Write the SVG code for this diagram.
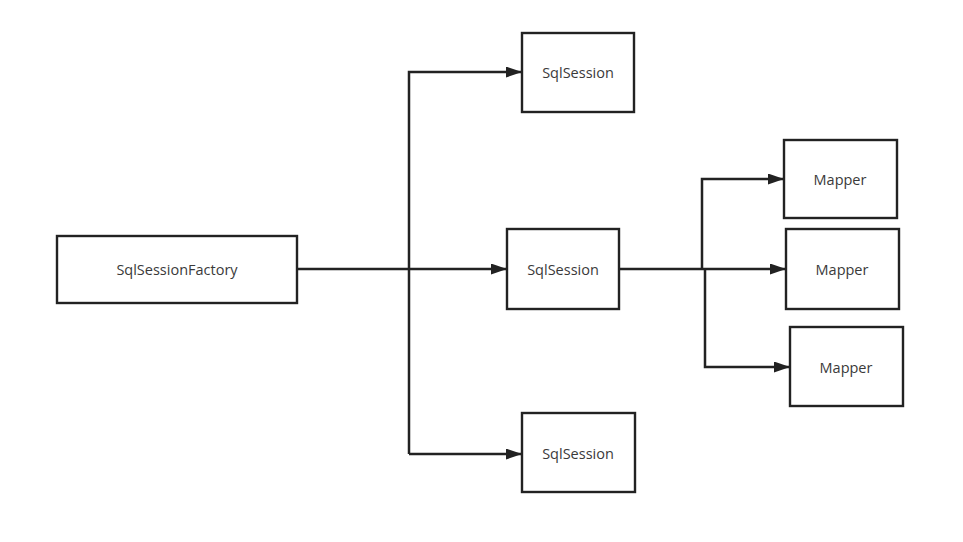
<svg xmlns="http://www.w3.org/2000/svg" width="963" height="542" viewBox="0 0 963 542">
<style>
.box{fill:#fff;stroke:#222;stroke-width:2.4}
.lbl{font-family:"Open Sans","Noto Sans","Liberation Sans",sans-serif;font-size:14.5px;fill:#3a3a3a;text-anchor:middle;dominant-baseline:central}
.ln{fill:none;stroke:#222;stroke-width:2.5}
</style>
<defs>
<marker id="ah" viewBox="0 0 16 11" refX="16" refY="5.5" markerWidth="16" markerHeight="11" markerUnits="userSpaceOnUse" orient="auto">
<path d="M0,0 L16,5.5 L0,11 Z" fill="#222"/>
</marker>
</defs>
<rect width="963" height="542" fill="#fff"/>
<g id="connectors">
<path class="ln" d="M297,269 L408,269"/>
<path class="ln" d="M408,269 L507,269" marker-end="url(#ah)"/>
<path class="ln" d="M409,454 L409,72 L522,72" marker-end="url(#ah)"/>
<path class="ln" d="M409,454 L522,454" marker-end="url(#ah)"/>
<path class="ln" d="M619,269 L786,269" marker-end="url(#ah)"/>
<path class="ln" d="M702,269 L702,179 L784,179" marker-end="url(#ah)"/>
<path class="ln" d="M705,269 L705,367 L790,367" marker-end="url(#ah)"/>
</g>
<g id="factory"><rect class="box" x="57" y="236" width="240" height="67"/><text class="lbl" x="177" y="269">SqlSessionFactory</text></g>
<g id="session1"><rect class="box" x="522" y="33" width="112" height="79"/><text class="lbl" x="578" y="72">SqlSession</text></g>
<g id="session2"><rect class="box" x="507" y="229" width="112" height="80"/><text class="lbl" x="563" y="269">SqlSession</text></g>
<g id="session3"><rect class="box" x="522" y="413" width="113" height="79"/><text class="lbl" x="578" y="453">SqlSession</text></g>
<g id="mapper1"><rect class="box" x="784" y="140" width="113" height="78"/><text class="lbl" x="840" y="179">Mapper</text></g>
<g id="mapper2"><rect class="box" x="786" y="229" width="113" height="80"/><text class="lbl" x="842" y="269">Mapper</text></g>
<g id="mapper3"><rect class="box" x="790" y="327" width="113" height="79"/><text class="lbl" x="846" y="367">Mapper</text></g>
</svg>
